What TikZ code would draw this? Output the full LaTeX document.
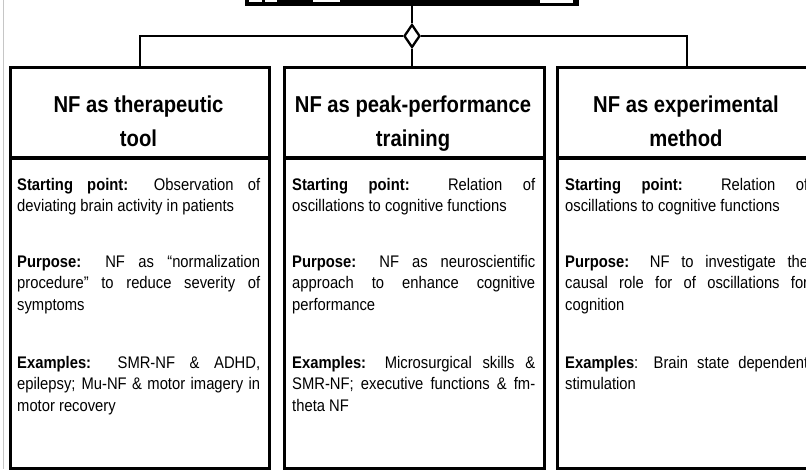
\documentclass[tikz,border=0pt]{standalone}
\usepackage{fontspec}
\setmainfont[FakeStretch=0.88]{Liberation Sans}
\usetikzlibrary{shapes.geometric}
\tolerance=10000
\hbadness=10000
\hyphenpenalty=10000
\exhyphenpenalty=10000
\begin{document}
\begin{tikzpicture}[x=1pt,y=-1pt,
  colbox/.style={draw, line width=2.6pt, inner sep=0, anchor=north west, minimum height=401pt},
  link/.style={line width=2.3pt},
  sepline/.style={line width=3.4pt},
  ttl/.style={font=\fontsize{23}{28}\selectfont\bfseries, anchor=base, inner sep=0},
  body/.style={font=\fontsize{16.8}{21.7}\selectfont, text width=243pt, align=justify, anchor=base west, inner sep=0},
]
\useasboundingbox (0,0) rectangle (806,469);
\clip (0,0) rectangle (806,469);
\fill[white] (0,0) rectangle (806,469);
\draw[gray!45, line width=1pt] (3,0) -- (3,469);

% top box (cut off)
\node[draw, fill=black, line width=1pt, anchor=north west, minimum width=333pt, minimum height=25pt, inner sep=0] (top) at (245,-20) {};
\fill[white] (249,0) rectangle (262,1.5);
\fill[white] (265,0) rectangle (277,1.5);
\fill[white] (313,0) rectangle (340,1.5);
\fill[white] (540,0) rectangle (573,3);

% diamond
\node[diamond, draw, fill=white, line width=2.3pt, minimum width=16pt, minimum height=23pt, inner sep=0] (dia) at (412,36) {};

% column boxes
\node[colbox, minimum width=259pt] (b1) at (9,66) {};
\node[colbox, minimum width=260pt] (b2) at (283,66) {};
\node[colbox, minimum width=262pt] (b3) at (556,66) {};

% connectors
\draw[link] (top.south) -- (dia.north);
\draw[link] (dia.south) -- (dia.south |- b2.north);
\draw[link] (dia.west) -- (140,36) coordinate (lc) -- (lc |- b1.north);
\draw[link] (dia.east) -- (687,36) coordinate (rc) -- (rc |- b3.north);

% separators
\draw[sepline] ([yshift=-92pt]b1.north west) -- ([yshift=-92pt]b1.north east);
\draw[sepline] ([yshift=-92pt]b2.north west) -- ([yshift=-92pt]b2.north east);
\draw[sepline] ([yshift=-92pt]b3.north west) -- ([yshift=-92pt]b3.north east);

% titles
\node[ttl] (t1a) at (138.5,112) {NF as therapeutic};
\node[ttl] (t1b) at (138.5,146) {tool};
\node[ttl] (t2a) at (413,112) {NF as peak-performance};
\node[ttl] (t2b) at (413,146) {training};
\node[ttl] (t3a) at (686,112) {NF as experimental};
\node[ttl] (t3b) at (686,146) {method};

% left column
\node[body] (p1a) at (17,190) {\textbf{Starting point:} Observation of\linebreak deviating brain activity in patients};
\node[body] (p1b) at (17,267) {\textbf{Purpose:} NF as “normalization\linebreak procedure” to reduce severity of\linebreak symptoms};
\node[body] (p1c) at (17,368) {\textbf{Examples:} SMR-NF \& ADHD,\linebreak epilepsy; Mu-NF \& motor imagery in\linebreak motor recovery};

% middle column
\node[body] (p2a) at (292,190) {\textbf{Starting point:} Relation of\linebreak oscillations to cognitive functions};
\node[body] (p2b) at (292,267) {\textbf{Purpose:} NF as neuroscientific\linebreak approach to enhance cognitive\linebreak performance};
\node[body] (p2c) at (292,368) {\textbf{Examples:} Microsurgical skills \&\linebreak SMR-NF; executive functions \& fm-\linebreak theta NF};

% right column
\node[body] (p3a) at (565,190) {\textbf{Starting point:} Relation of\linebreak oscillations to cognitive functions};
\node[body] (p3b) at (565,267) {\textbf{Purpose:} NF to investigate the\linebreak causal role for of oscillations for\linebreak cognition};
\node[body] (p3c) at (565,368) {\textbf{Examples}: Brain state dependent\linebreak stimulation};
\end{tikzpicture}
\end{document}
